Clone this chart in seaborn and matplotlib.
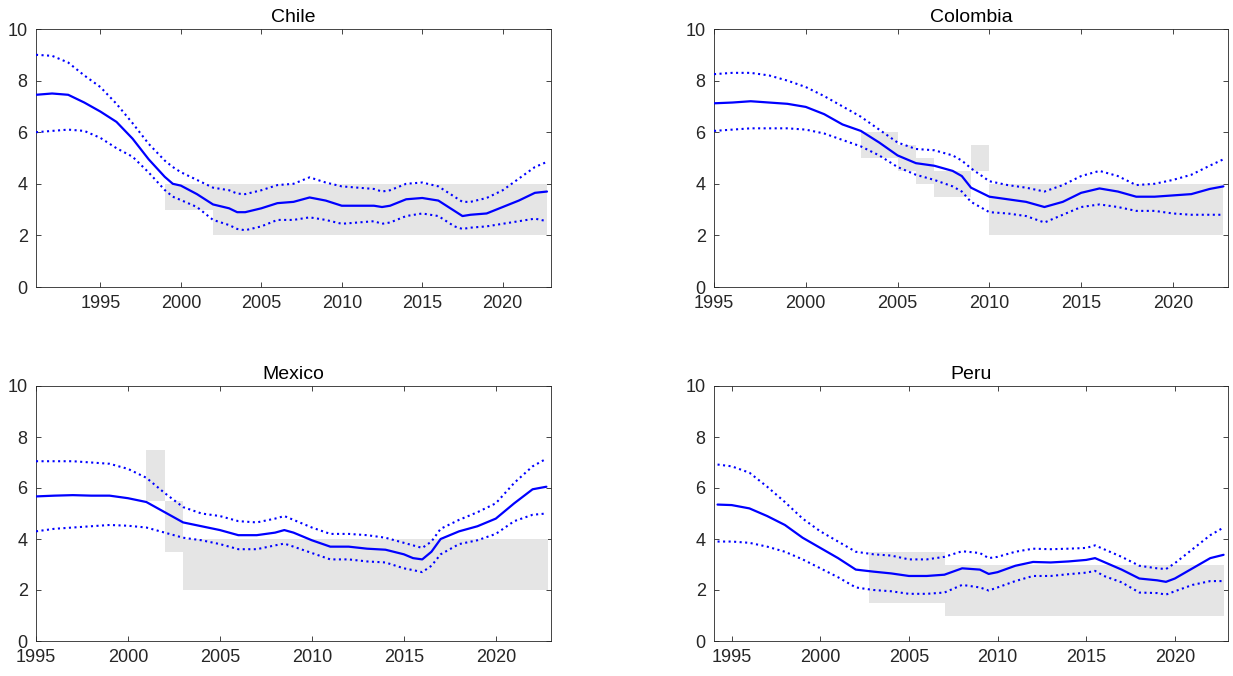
import matplotlib
matplotlib.use("Agg")
import matplotlib.pyplot as plt
import seaborn as sns

# --- Chile ---
chile_years = [1991, 1992, 1993, 1994, 1995, 1996, 1997, 1998, 1999, 1999.5, 2000, 2001, 2002,
               2003, 2003.5, 2004, 2005, 2006, 2007, 2008, 2009, 2010, 2011, 2012, 2012.5, 2013,
               2014, 2015, 2016, 2017, 2017.5, 2018, 2019, 2020, 2021, 2022, 2022.75]
chile_mid = [7.45, 7.5, 7.45, 7.15, 6.8, 6.4, 5.75, 4.95, 4.27, 4.0, 3.93, 3.6, 3.2,
             3.05, 2.9, 2.9, 3.05, 3.25, 3.3, 3.47, 3.35, 3.15, 3.15, 3.15, 3.1, 3.15,
             3.4, 3.45, 3.35, 2.95, 2.75, 2.8, 2.85, 3.1, 3.35, 3.65, 3.7]
chile_hi = [9.0, 8.96, 8.7, 8.2, 7.75, 7.1, 6.35, 5.55, 4.9, 4.65, 4.45, 4.15, 3.85,
            3.75, 3.62, 3.6, 3.75, 3.95, 4.0, 4.25, 4.05, 3.9, 3.85, 3.8, 3.7, 3.75,
            4.0, 4.05, 3.9, 3.5, 3.3, 3.3, 3.45, 3.75, 4.2, 4.65, 4.85]
chile_lo = [6.0, 6.05, 6.1, 6.05, 5.78, 5.38, 5.05, 4.44, 3.76, 3.5, 3.37, 3.1, 2.6,
            2.4, 2.25, 2.2, 2.35, 2.6, 2.6, 2.7, 2.6, 2.45, 2.5, 2.55, 2.45, 2.5,
            2.75, 2.85, 2.75, 2.35, 2.25, 2.3, 2.35, 2.45, 2.55, 2.65, 2.55]
chile_band_x = [1999, 2002, 2022.75]
chile_band_lo = [3, 2, 2]
chile_band_hi = [4, 4, 4]

# --- Colombia ---
colombia_years = [1995, 1996, 1997, 1998, 1999, 2000, 2001, 2002, 2003, 2004, 2005, 2006, 2007,
                  2008, 2008.5, 2009, 2010, 2011, 2012, 2013, 2014, 2015, 2016, 2017, 2018,
                  2019, 2020, 2021, 2022, 2022.75]
colombia_mid = [7.12, 7.15, 7.2, 7.15, 7.1, 6.98, 6.7, 6.3, 6.05, 5.6, 5.1, 4.8, 4.7,
                4.5, 4.3, 3.85, 3.5, 3.4, 3.3, 3.1, 3.3, 3.65, 3.82, 3.7, 3.5,
                3.5, 3.55, 3.6, 3.8, 3.9]
colombia_hi = [8.25, 8.3, 8.3, 8.2, 8.0, 7.75, 7.4, 7.0, 6.6, 6.1, 5.6, 5.35, 5.3,
               5.1, 4.9, 4.6, 4.1, 3.95, 3.85, 3.7, 3.95, 4.3, 4.5, 4.3, 3.95,
               4.0, 4.15, 4.35, 4.7, 4.95]
colombia_lo = [6.05, 6.1, 6.15, 6.15, 6.15, 6.1, 5.95, 5.7, 5.45, 5.1, 4.65, 4.35, 4.15,
               3.9, 3.7, 3.3, 2.9, 2.85, 2.75, 2.5, 2.8, 3.1, 3.2, 3.1, 2.95,
               2.95, 2.85, 2.8, 2.8, 2.8]
colombia_band_x = [2003, 2005, 2006, 2007, 2009, 2010, 2022.75]
colombia_band_lo = [5, 4.5, 4, 3.5, 4.5, 2, 2]
colombia_band_hi = [6, 5.5, 5, 4.5, 5.5, 4, 4]

# --- Mexico ---
mexico_years = [1995, 1996, 1997, 1998, 1999, 2000, 2001, 2002, 2003, 2004, 2005, 2006, 2007,
                2008, 2008.5, 2009, 2010, 2011, 2012, 2013, 2014, 2015, 2015.5, 2016, 2016.5,
                2017, 2018, 2019, 2020, 2021, 2022, 2022.75]
mexico_mid = [5.67, 5.7, 5.72, 5.7, 5.7, 5.6, 5.45, 5.05, 4.65, 4.5, 4.35, 4.15, 4.15,
              4.25, 4.35, 4.25, 3.95, 3.7, 3.7, 3.62, 3.58, 3.4, 3.25, 3.2, 3.5,
              4.0, 4.3, 4.5, 4.8, 5.4, 5.95, 6.05]
mexico_hi = [7.05, 7.05, 7.05, 7.0, 6.95, 6.75, 6.4, 5.8, 5.25, 5.0, 4.9, 4.7, 4.65,
             4.8, 4.9, 4.75, 4.45, 4.2, 4.2, 4.15, 4.05, 3.85, 3.75, 3.65, 3.9,
             4.4, 4.75, 5.05, 5.4, 6.2, 6.85, 7.15]
mexico_lo = [4.3, 4.4, 4.45, 4.5, 4.55, 4.52, 4.45, 4.25, 4.05, 3.95, 3.8, 3.6, 3.6,
             3.75, 3.82, 3.7, 3.45, 3.2, 3.2, 3.12, 3.08, 2.85, 2.78, 2.7, 2.95,
             3.4, 3.8, 3.95, 4.2, 4.7, 4.95, 5.0]
mexico_band_x = [2001, 2002, 2003, 2022.85]
mexico_band_lo = [5.5, 3.5, 2, 2]
mexico_band_hi = [7.5, 5.5, 4, 4]

# --- Peru ---
peru_years = [1994.2, 1995, 1996, 1997, 1998, 1999, 2000, 2001, 2002, 2003, 2004, 2005, 2006,
              2007, 2008, 2009, 2009.5, 2010, 2011, 2012, 2013, 2014, 2015, 2015.5, 2016,
              2017, 2018, 2019, 2019.5, 2020, 2021, 2022, 2022.75]
peru_mid = [5.35, 5.33, 5.2, 4.9, 4.55, 4.05, 3.65, 3.25, 2.8, 2.72, 2.65, 2.55, 2.55,
            2.6, 2.85, 2.8, 2.63, 2.7, 2.95, 3.1, 3.08, 3.12, 3.18, 3.25, 3.1,
            2.8, 2.45, 2.38, 2.32, 2.45, 2.85, 3.25, 3.38]
peru_hi = [6.92, 6.85, 6.6, 6.05, 5.45, 4.8, 4.3, 3.9, 3.5, 3.4, 3.35, 3.2, 3.2,
           3.3, 3.52, 3.45, 3.25, 3.3, 3.5, 3.62, 3.6, 3.62, 3.65, 3.75, 3.6,
           3.3, 2.95, 2.85, 2.82, 3.05, 3.6, 4.15, 4.45]
peru_lo = [3.9, 3.9, 3.85, 3.7, 3.5, 3.2, 2.85, 2.5, 2.1, 2.0, 1.95, 1.85, 1.85,
           1.9, 2.2, 2.1, 1.98, 2.1, 2.35, 2.55, 2.55, 2.62, 2.68, 2.75, 2.55,
           2.3, 1.9, 1.88, 1.82, 1.95, 2.2, 2.35, 2.35]
peru_band_x = [2002.75, 2007.05, 2022.8]
peru_band_lo = [1.5, 1, 1]
peru_band_hi = [3.5, 3, 3]

sns.set_theme(style="ticks")
plt.rcParams['font.family'] = ['Liberation Sans', 'DejaVu Sans']
plt.rcParams.update({
    'xtick.direction': 'in', 'ytick.direction': 'in',
    'xtick.top': True, 'ytick.right': True,
    'xtick.major.size': 3.5, 'ytick.major.size': 3.5,
    'xtick.major.width': 0.6, 'ytick.major.width': 0.6,
    'axes.linewidth': 0.6, 'axes.edgecolor': '#262626',
    'xtick.color': '#262626', 'ytick.color': '#262626',
    'xtick.labelsize': 13, 'ytick.labelsize': 13,
})

W, H = 1233, 676
fig = plt.figure(figsize=(W / 100, H / 100), dpi=100)


def draw_panel(rect, title, years, mid, hi, lo, bx, blo, bhi, xlim):
    ax = fig.add_axes(rect)
    ax.fill_between(bx, blo, bhi, step='post', color='#e5e5e5', linewidth=0, zorder=1)
    sns.lineplot(x=years, y=hi, ax=ax, color='blue', linestyle=':', linewidth=1.5, zorder=3)
    sns.lineplot(x=years, y=lo, ax=ax, color='blue', linestyle=':', linewidth=1.5, zorder=3)
    sns.lineplot(x=years, y=mid, ax=ax, color='blue', linewidth=1.6, zorder=4)
    ax.set_xlim(*xlim)
    ax.set_ylim(0, 10)
    ax.set_xticks([1995, 2000, 2005, 2010, 2015, 2020])
    ax.set_yticks([0, 2, 4, 6, 8, 10])
    ax.tick_params(axis='x', pad=6)
    ax.tick_params(axis='y', pad=6)
    ax.set_title(title, fontsize=14, pad=5, color='black')
    ax.set_xlabel('')
    ax.set_ylabel('')
    return ax


def rect(left, top, right, bottom):
    return [left / W, 1 - bottom / H, (right - left) / W, (bottom - top) / H]


draw_panel(rect(36, 29, 551, 287), 'Chile', chile_years, chile_mid, chile_hi, chile_lo,
           chile_band_x, chile_band_lo, chile_band_hi, (1991, 2023))
draw_panel(rect(714, 29, 1228, 287), 'Colombia', colombia_years, colombia_mid, colombia_hi,
           colombia_lo, colombia_band_x, colombia_band_lo, colombia_band_hi, (1995, 2023))
draw_panel(rect(36, 386, 551, 641), 'Mexico', mexico_years, mexico_mid, mexico_hi, mexico_lo,
           mexico_band_x, mexico_band_lo, mexico_band_hi, (1995, 2023))
draw_panel(rect(714, 386, 1228, 641), 'Peru', peru_years, peru_mid, peru_hi, peru_lo,
           peru_band_x, peru_band_lo, peru_band_hi, (1994, 2023))

fig.savefig('out.png', dpi=100)
